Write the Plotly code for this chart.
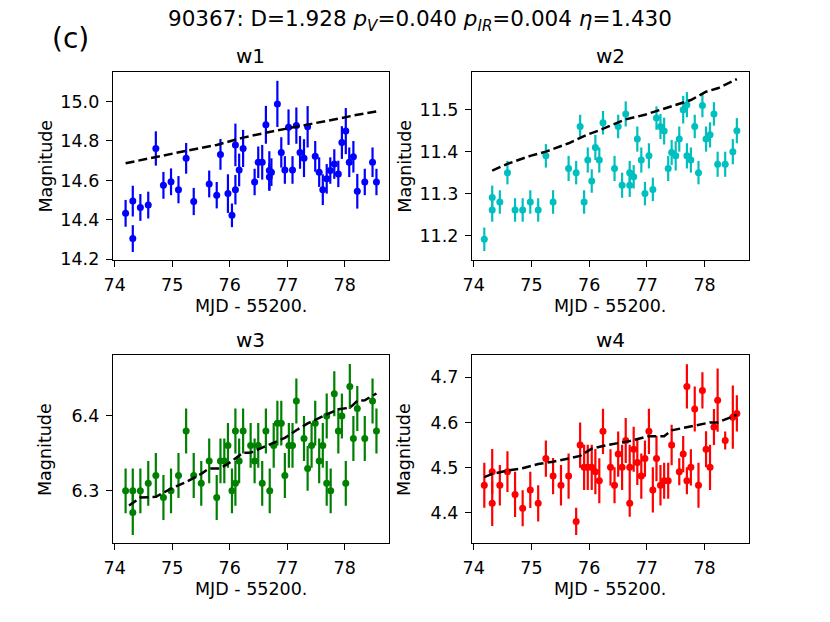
import plotly.graph_objects as go

# WISE light curves, times in MJD - 55200.
t_w1 = [74.19, 74.315, 74.315, 74.447, 74.584, 74.716, 74.848, 74.98, 75.11, 75.243,
        75.375, 75.644, 75.775, 75.84, 75.97, 76.04, 76.10, 76.10, 76.165, 76.234,
        76.434, 76.497, 76.566, 76.63, 76.69, 76.69, 76.726, 76.83, 76.898, 76.96,
        77.024, 77.093, 77.16, 77.224, 77.293, 77.356, 77.488, 77.557, 77.62, 77.688,
        77.75, 77.82, 77.89, 77.952, 78.02, 78.08, 78.152, 78.22, 78.35, 78.485, 78.553]
mag_w1 = [14.433, 14.495, 14.305, 14.463, 14.475, 14.762, 14.575, 14.593, 14.553, 14.712,
          14.493, 14.582, 14.525, 14.732, 14.533, 14.423, 14.553, 14.78, 14.653, 14.762,
          14.592, 14.692, 14.692, 14.882, 14.65, 14.617, 14.642, 14.988, 14.742, 14.653,
          14.87, 14.653, 14.878, 14.742, 14.713, 14.872, 14.722, 14.642, 14.553, 14.608,
          14.65, 14.683, 14.633, 14.792, 14.85, 14.692, 14.72, 14.545, 14.592, 14.692, 14.592]
err_w1 = [0.068, 0.078, 0.068, 0.068, 0.068, 0.087, 0.068, 0.068, 0.069, 0.078,
          0.069, 0.068, 0.067, 0.078, 0.098, 0.06, 0.075, 0.108, 0.083, 0.094,
          0.067, 0.08, 0.088, 0.096, 0.098, 0.07, 0.07, 0.117, 0.077, 0.07,
          0.09, 0.07, 0.092, 0.083, 0.096, 0.105, 0.078, 0.075, 0.078, 0.075,
          0.067, 0.075, 0.067, 0.083, 0.117, 0.075, 0.08, 0.088, 0.067, 0.075, 0.067]
model_t_w1 = [74.19, 74.716, 75.243, 75.775, 76.234, 76.63, 76.83, 77.093, 77.62, 77.952, 78.22, 78.553]
model_w1 = [14.687, 14.72, 14.75, 14.78, 14.817, 14.842, 14.853, 14.867, 14.897, 14.917, 14.933, 14.95]

t_w2 = [74.183, 74.32, 74.32, 74.452, 74.584, 74.716, 74.848, 74.98, 75.117, 75.25,
        75.375, 75.644, 75.775, 75.844, 75.913, 75.976, 76.045, 76.108, 76.176, 76.24,
        76.44, 76.503, 76.571, 76.634, 76.703, 76.703, 76.772, 76.835, 76.904, 76.967,
        77.036, 77.104, 77.167, 77.236, 77.3, 77.37, 77.43, 77.5, 77.562, 77.63,
        77.694, 77.694, 77.763, 77.83, 77.895, 77.963, 78.026, 78.095, 78.163, 78.227,
        78.358, 78.49, 78.56]
mag_w2 = [11.191, 11.261, 11.291, 11.28, 11.35, 11.261, 11.261, 11.28, 11.261, 11.39,
          11.28, 11.36, 11.35, 11.46, 11.28, 11.38, 11.33, 11.41, 11.38, 11.469,
          11.36, 11.46, 11.32, 11.49, 11.35, 11.32, 11.34, 11.43, 11.38, 11.30,
          11.39, 11.31, 11.48, 11.46, 11.449, 11.36, 11.398, 11.39, 11.43, 11.50,
          11.512, 11.39, 11.38, 11.46, 11.35, 11.51, 11.43, 11.44, 11.49, 11.37,
          11.37, 11.40, 11.45]
err_w2 = [0.028, 0.028, 0.028, 0.028, 0.028, 0.028, 0.028, 0.028, 0.028, 0.028,
          0.028, 0.03, 0.028, 0.028, 0.028, 0.03, 0.028, 0.03, 0.03, 0.028,
          0.03, 0.028, 0.03, 0.03, 0.028, 0.028, 0.028, 0.03, 0.03, 0.028,
          0.03, 0.028, 0.028, 0.03, 0.032, 0.03, 0.03, 0.035, 0.03, 0.033,
          0.03, 0.03, 0.03, 0.028, 0.028, 0.028, 0.03, 0.03, 0.028, 0.03,
          0.03, 0.03, 0.03]
model_t_w2 = [74.32, 74.584, 74.98, 75.25, 75.644, 75.976, 76.176, 76.634, 76.967, 77.236, 77.5, 77.763, 78.026, 78.227, 78.56]
model_w2 = [11.355, 11.371, 11.39, 11.40, 11.42, 11.441, 11.451, 11.477, 11.488, 11.50, 11.512, 11.523, 11.543, 11.551, 11.573]

t_w3 = [74.19, 74.315, 74.315, 74.447, 74.584, 74.716, 74.848, 74.98, 75.11, 75.243,
        75.375, 75.506, 75.644, 75.775, 75.84, 75.907, 75.97, 76.04, 76.10, 76.10,
        76.165, 76.234, 76.365, 76.434, 76.497, 76.566, 76.63, 76.697, 76.766, 76.83,
        76.898, 76.96, 77.03, 77.093, 77.16, 77.293, 77.356, 77.425, 77.488, 77.557,
        77.62, 77.688, 77.688, 77.757, 77.82, 77.89, 77.952, 78.02, 78.09, 78.152,
        78.22, 78.35, 78.485, 78.553]
mag_w3 = [6.30, 6.30, 6.271, 6.30, 6.31, 6.3205, 6.291, 6.30, 6.3205, 6.380,
          6.3205, 6.31, 6.34, 6.291, 6.34, 6.34, 6.3607, 6.30, 6.31, 6.380,
          6.34, 6.380, 6.3607, 6.34, 6.3607, 6.31, 6.380, 6.30, 6.3607, 6.3904,
          6.3904, 6.3205, 6.3607, 6.3607, 6.420, 6.370, 6.330, 6.3607, 6.3904, 6.34,
          6.3607, 6.31, 6.40, 6.30, 6.4297, 6.380, 6.40, 6.31, 6.4393, 6.370,
          6.410, 6.370, 6.420, 6.380]
err_w3 = [0.03, 0.03, 0.03, 0.03, 0.03, 0.03, 0.03, 0.03, 0.03, 0.03,
          0.03, 0.03, 0.03, 0.03, 0.03, 0.03, 0.03, 0.03, 0.03, 0.03,
          0.03, 0.03, 0.03, 0.03, 0.03, 0.03, 0.03, 0.03, 0.03, 0.03,
          0.03, 0.03, 0.03, 0.03, 0.03, 0.03, 0.03, 0.03, 0.03, 0.03,
          0.03, 0.03, 0.03, 0.03, 0.03, 0.03, 0.03, 0.03, 0.03, 0.03,
          0.03, 0.03, 0.03, 0.03]
model_t_w3 = [74.25, 74.447, 74.716, 74.98, 75.243, 75.506, 75.644, 75.84, 76.04, 76.234, 76.365, 76.63, 76.96, 77.16, 77.356, 77.688, 77.89, 78.09, 78.22, 78.35, 78.553]
model_w3 = [6.2803, 6.291, 6.292, 6.303, 6.3118, 6.3227, 6.330, 6.330, 6.3397, 6.351, 6.351, 6.36, 6.3707, 6.381, 6.39, 6.402, 6.409, 6.411, 6.42, 6.421, 6.43]

t_w4 = [74.183, 74.32, 74.32, 74.452, 74.584, 74.716, 74.848, 74.98, 75.117, 75.25,
        75.375, 75.512, 75.644, 75.775, 75.844, 75.913, 75.976, 76.045, 76.108, 76.176,
        76.24, 76.37, 76.44, 76.503, 76.571, 76.634, 76.703, 76.703, 76.772, 76.835,
        76.904, 76.967, 77.036, 77.104, 77.167, 77.236, 77.3, 77.37, 77.43, 77.562,
        77.63, 77.694, 77.694, 77.763, 77.83, 77.895, 77.963, 78.026, 78.095, 78.163,
        78.227, 78.358, 78.49, 78.56]
mag_w4 = [4.461, 4.491, 4.421, 4.461, 4.491, 4.4406, 4.410, 4.4507, 4.421, 4.520,
          4.4812, 4.461, 4.4812, 4.381, 4.55, 4.5007, 4.5007, 4.5007, 4.491, 4.471,
          4.5804, 4.5007, 4.461, 4.530, 4.5007, 4.560, 4.5007, 4.421, 4.5406, 4.5116,
          4.4812, 4.520, 4.5804, 4.4507, 4.520, 4.461, 4.471, 4.471, 4.55, 4.491,
          4.530, 4.471, 4.6797, 4.5007, 4.6297, 4.461, 4.671, 4.5406, 4.5007, 4.590,
          4.6493, 4.560, 4.6116, 4.620]
err_w4 = [0.05, 0.05, 0.05, 0.045, 0.045, 0.05, 0.04, 0.04, 0.04, 0.04,
          0.04, 0.045, 0.05, 0.03, 0.05, 0.05, 0.05, 0.05, 0.05, 0.05,
          0.05, 0.04, 0.04, 0.05, 0.05, 0.05, 0.05, 0.03, 0.05, 0.05,
          0.05, 0.04, 0.05, 0.05, 0.05, 0.045, 0.04, 0.04, 0.045, 0.03,
          0.04, 0.03, 0.049, 0.04, 0.05, 0.05, 0.04, 0.04, 0.05, 0.04,
          0.07, 0.02, 0.07, 0.04]
model_t_w4 = [74.183, 74.32, 74.584, 74.848, 75.117, 75.375, 75.644, 75.844, 76.045, 76.37, 76.703, 77.036, 77.3, 77.43, 77.63, 77.83, 78.095, 78.227, 78.56]
model_w4 = [4.479, 4.4862, 4.4935, 4.4986, 4.508, 4.513, 4.520, 4.526, 4.542, 4.5514, 4.5587, 4.5696, 4.5696, 4.5826, 4.5877, 4.5928, 4.60, 4.60, 4.6167]

bands = ["w1", "w2", "w3", "w4"]
colors = ["#0000ff", "#00bfbf", "#008000", "#ff0000"]
data = [(t_w1, mag_w1, err_w1, model_t_w1, model_w1),
        (t_w2, mag_w2, err_w2, model_t_w2, model_w2),
        (t_w3, mag_w3, err_w3, model_t_w3, model_w3),
        (t_w4, mag_w4, err_w4, model_t_w4, model_w4)]
yranges = [[14.197, 15.15], [11.142, 11.59], [6.230, 6.481], [4.3326, 4.7486]]
yticks = [[14.2, 14.4, 14.6, 14.8, 15.0], [11.2, 11.3, 11.4, 11.5], [6.3, 6.4], [4.4, 4.5, 4.6, 4.7]]

W, H = 830, 622
OFF = 8  # page body margin offset
# panel boxes in pixels: left, right, top, bottom
boxes = [(105, 384, 73, 264), (468, 748, 73, 264), (105, 384, 361, 552), (468, 748, 361, 552)]


def px(v):
    return (v - OFF) / W


def py(v):
    return 1 - (v - OFF) / H


FONT = "DejaVu Sans"
fig = go.Figure()
annotations = []
layout = {}
for i, (band, col, (t, m, e, mt, mm)) in enumerate(zip(bands, colors, data)):
    n = "" if i == 0 else str(i + 1)
    xa, ya = "x" + n, "y" + n
    fig.add_trace(go.Scatter(
        x=t, y=m, mode="markers", xaxis=xa, yaxis=ya,
        marker=dict(color=col, size=7),
        error_y=dict(type="data", array=e, color=col, thickness=2.2, width=0),
        showlegend=False))
    fig.add_trace(go.Scatter(
        x=mt, y=mm, mode="lines", xaxis=xa, yaxis=ya,
        line=dict(color="black", width=2.5, dash="9px,4px"),
        showlegend=False))
    l, r, tp, bt = boxes[i]
    axis_common = dict(showgrid=False, zeroline=False, showline=True, mirror=True,
                       linecolor="black", linewidth=1.3, ticks="outside", ticklen=6,
                       tickwidth=1.3, tickcolor="black", ticklabelstandoff=3,
                       tickfont=dict(family=FONT, size=17.5, color="black"))
    layout["xaxis" + n] = dict(axis_common, domain=[px(l), px(r)], anchor=ya,
                               range=[73.97, 78.77], tickvals=[74, 75, 76, 77, 78])
    layout["yaxis" + n] = dict(axis_common, domain=[py(bt), py(tp)], anchor=xa,
                               range=yranges[i], tickvals=yticks[i], tickformat=".1f")
    cx = (l + r) / 2
    annotations.append(dict(text=band, x=px(cx), y=py(tp - 16), xref="paper", yref="paper",
                            showarrow=False, xanchor="center", yanchor="middle",
                            font=dict(family=FONT, size=20, color="black")))
    annotations.append(dict(text="MJD - 55200.", x=px(cx), y=py(bt + 47), xref="paper",
                            yref="paper", showarrow=False, xanchor="center", yanchor="middle",
                            font=dict(family=FONT, size=17.5, color="black")))
    annotations.append(dict(text="Magnitude", x=px(l - 68), y=py((tp + bt) / 2),
                            xref="paper", yref="paper", showarrow=False, textangle=-90,
                            xanchor="center", yanchor="middle",
                            font=dict(family=FONT, size=17.5, color="black")))

annotations.append(dict(
    text="90367: D=1.928 <i>p</i><sub><i>V</i></sub>=0.040 <i>p</i><sub><i>IR</i></sub>=0.004 <i>η</i>=1.430",
    x=px(415), y=py(21), xref="paper", yref="paper", showarrow=False,
    xanchor="center", yanchor="middle", font=dict(family=FONT, size=21.5, color="black")))
annotations.append(dict(text="(c)", x=px(62), y=py(39), xref="paper", yref="paper",
                        showarrow=False, xanchor="center", yanchor="middle",
                        font=dict(family=FONT, size=28, color="black")))

fig.update_layout(width=W, height=H, margin=dict(l=0, r=0, t=0, b=0),
                  paper_bgcolor="white", plot_bgcolor="white",
                  annotations=annotations, **layout)
fig.write_html("out.html")
